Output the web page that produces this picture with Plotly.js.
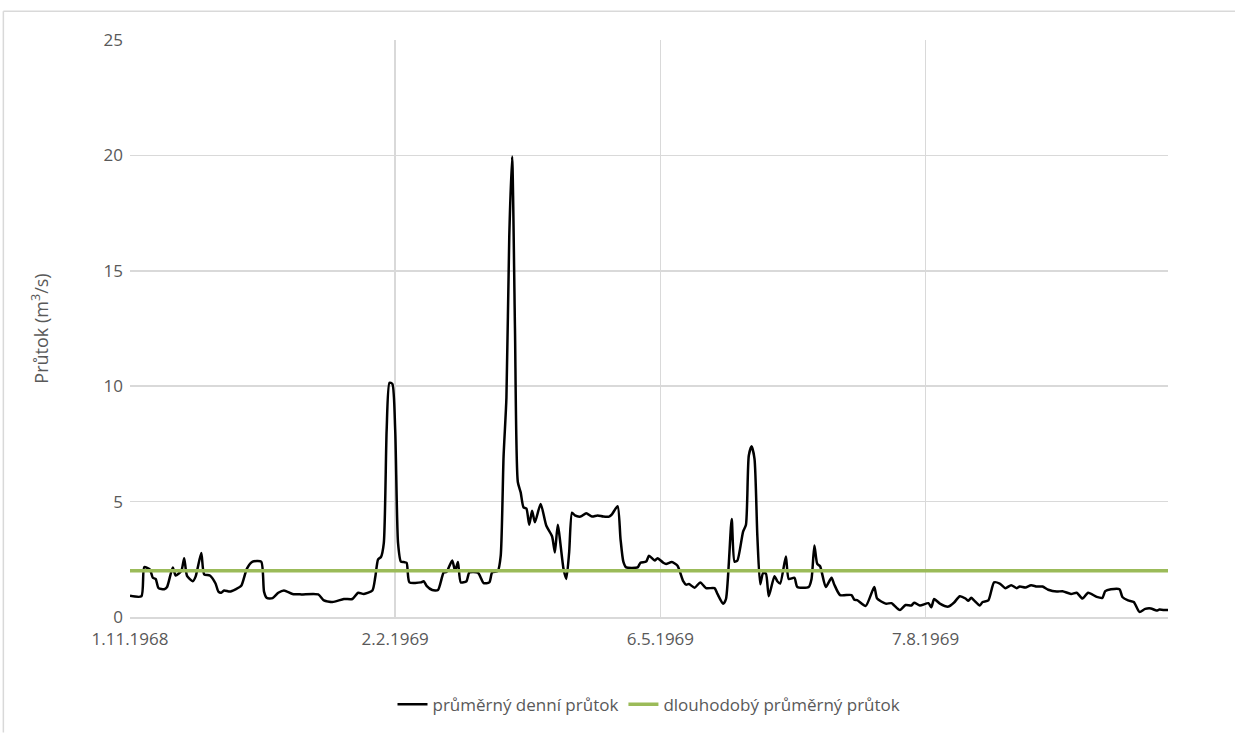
<!DOCTYPE html>
<html><head><meta charset="utf-8">
<script src="https://cdn.plot.ly/plotly-3.0.1.min.js"></script>
<style>body{margin:0;background:#fff}#c{width:1235px;height:733px}</style>
</head><body><div id="c"></div>
<script>
const startDate = '1968-11-01';
const dayOffsets = [0,4,5,7,8,9,10,12,13,15,16,18,19,20,22,23,25,26,28,30,31,32,33,35,37,39,41,43,46,47,48,50,52,54,57,60,66,68,71,75,78,80,82,85,86,87,88,89,90,91,92,93,94,95,96,
97,98,102,103,104,106,108,110,111,113,114,115,116,118,119,122,124,126,127,129,130,131,132,133,134,135,136,137,138,139,140,141,142,144,146,148,149,150,152,153,154,155,156,158,160,162,164,166,168,169,171,172,173,174,178,179,181,182,184,185,187,188,
190,192,194,195,196,198,200,202,205,206,208,209,211,212,213,215,216,217,218,219,220,221,222,223,224,226,227,228,230,231,233,234,238,239,240,241,242,244,246,247,249,253,254,255,258,261,262,265,267,268,270,272,274,275,277,280,
281,282,284,287,289,291,293,294,295,296,298,299,301,303,305,307,309,311,312,314,316,318,320,322,325,327,330,332,334,336,339,341,342,344,347,348,350,352,354,356,358,360,361,363,364];
const dailyFlow = [0.92,0.9,2.16,2.05,1.7,1.65,1.25,1.2,1.3,2.15,1.8,2.0,2.55,1.78,1.55,1.75,2.77,1.85,1.8,1.45,1.1,1.05,1.15,1.1,1.2,1.35,2.1,2.4,2.4,1.1,0.82,0.82,1.05,1.15,1.0,0.98,0.98,0.72,0.65,0.78,0.78,1.05,1.0,1.15,1.72,2.5,2.6,3.2,8.1,10.15,10.1,8.1,3.2,2.4,2.38,
2.35,1.5,1.5,1.55,1.35,1.17,1.17,1.93,1.95,2.45,2.0,2.38,1.5,1.55,1.93,1.92,1.47,1.5,1.93,2.0,2.65,6.95,9.5,16.5,19.95,12.5,5.85,5.4,4.75,4.7,4.0,4.6,4.1,4.9,3.95,3.5,2.8,4.0,2.1,1.65,2.8,4.52,4.4,4.35,4.5,4.35,4.4,4.35,4.35,4.45,4.8,3.4,2.4,2.15,2.15,2.35,2.4,2.65,2.45,2.55,2.35,2.3,
2.38,2.22,1.55,1.4,1.43,1.27,1.5,1.25,1.25,1.0,0.57,0.78,4.25,2.4,2.45,3.7,4.0,7.0,7.4,6.85,3.5,1.42,1.9,1.88,0.9,1.77,1.55,1.45,2.62,1.65,1.7,1.3,1.3,1.65,3.1,2.3,2.2,1.3,1.7,1.4,0.95,0.95,0.75,0.73,0.48,1.3,0.8,0.58,0.6,0.5,0.3,0.52,0.5,0.62,0.5,0.6,
0.42,0.78,0.58,0.45,0.63,0.9,0.8,0.7,0.83,0.72,0.5,0.65,0.72,1.5,1.45,1.25,1.38,1.25,1.32,1.28,1.38,1.32,1.32,1.18,1.1,1.12,1.0,1.05,0.8,1.05,0.87,0.83,1.12,1.2,1.2,0.87,0.72,0.65,0.22,0.35,0.37,0.28,0.32,0.3,0.3];
const longTermMean = 2.0;
const tickDates = ['1968-11-01','1969-02-02','1969-05-06','1969-08-07'];
const tickLabels = ['1.11.1968','2.2.1969','6.5.1969','7.8.1969'];
const endDate = '1969-10-31';

function addDays(s,n){const d=new Date(s+'T00:00:00Z');d.setUTCDate(d.getUTCDate()+n);return d.toISOString().slice(0,10);}
const dates = dayOffsets.map(o=>addDays(startDate,o));

const traces = [
 {x:dates,y:dailyFlow,type:'scatter',mode:'lines',name:'průměrný denní průtok',line:{color:'#000',width:2.5,shape:'spline',smoothing:0.6}},
 {x:[startDate,endDate],y:[longTermMean,longTermMean],type:'scatter',mode:'lines',name:'dlouhodobý průměrný průtok',line:{color:'#9bbb59',width:3.5}}
];
const layout = {
 width:1235,height:733,paper_bgcolor:'#fff',plot_bgcolor:'#fff',
 font:{family:'Open Sans, Liberation Sans, sans-serif',size:17,color:'#595959'},
 margin:{l:130,r:67,t:40,b:115},
 showlegend:true,
 legend:{orientation:'h',x:0.5,xanchor:'center',y:-0.15,yanchor:'middle',font:{size:17,color:'#595959'}},
 xaxis:{type:'date',range:[startDate,endDate],tickvals:tickDates,ticktext:tickLabels,showgrid:true,gridcolor:'#d9d9d9',gridwidth:1.5,zeroline:false,showline:true,linecolor:'#d9d9d9',linewidth:1.5,ticks:'',ticklabelstandoff:6,tickfont:{size:17,color:'#595959'}},
 yaxis:{range:[0,25],dtick:5,showgrid:true,gridcolor:'#d9d9d9',gridwidth:1.5,zeroline:false,ticks:'',ticklen:0,ticklabelstandoff:6,tickfont:{size:17,color:'#595959'},
  title:{text:'Průtok (m<sup>3</sup>/s)',font:{size:18,color:'#595959'},standoff:50}},
 shapes:[
  {type:'line',xref:'paper',yref:'paper',x0:-0.122,x1:1.07,y0:1.05,y1:1.05,line:{color:'#d9d9d9',width:1.5}},
  {type:'line',xref:'paper',yref:'paper',x0:-0.122,x1:-0.122,y0:1.05,y1:-0.2,line:{color:'#d9d9d9',width:1.5}}
 ]
};
Plotly.newPlot('c',traces,layout,{displayModeBar:false,staticPlot:true});
</script></body></html>
